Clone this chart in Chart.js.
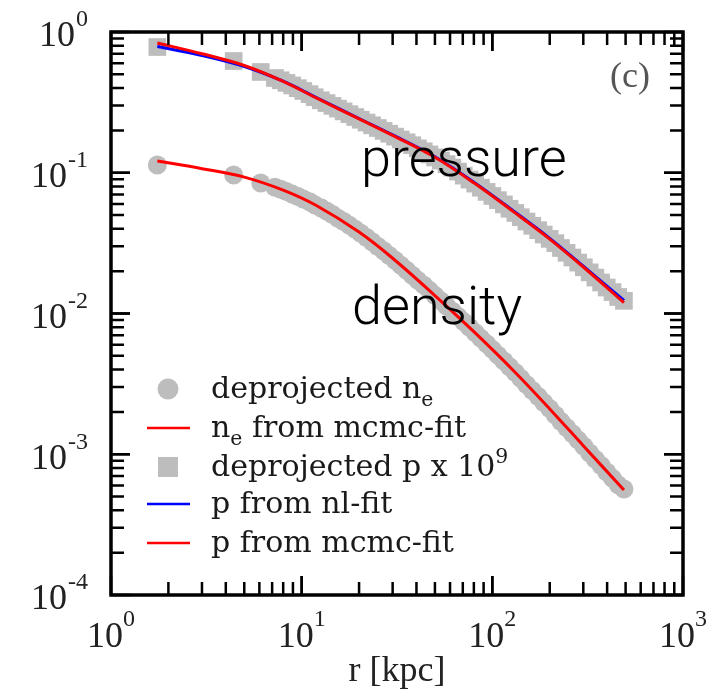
<!DOCTYPE html>
<html>
<head>
<meta charset="utf-8">
<script src="https://cdn.jsdelivr.net/npm/chart.js@4/dist/chart.umd.min.js"></script>
<style>
  html, body { margin: 0; padding: 0; background: #fff; }
  #wrap { width: 717px; height: 696px; }
</style>
</head>
<body>
<div id="wrap"><canvas id="myChart" width="717" height="696"></canvas></div>
<script>
// radii of the deprojected bins (kpc)
const markerR = [1.75, 4.4, 6.1,
  7.24, 7.76, 8.32, 8.91, 9.55, 10.2, 11.0, 11.7, 12.6, 13.5, 14.5, 15.5, 16.6, 17.8, 19.1, 20.4,
  21.9, 23.4, 25.1, 26.9, 28.8, 30.9, 33.1, 35.5, 38.0, 40.7, 43.7, 46.8, 50.1, 53.7, 57.5, 61.7,
  66.1, 70.8, 75.9, 81.3, 87.1, 93.3, 100, 107, 115, 123, 132, 141, 151, 162, 174, 186,
  200, 214, 229, 245, 263, 282, 302, 324, 347, 372, 398, 427, 457, 490]
// deprojected electron density n_e (cm^-3)
const densityNe = [0.1135, 0.0964, 0.0845,
  0.0789, 0.0763, 0.0735, 0.0706, 0.0679, 0.0651, 0.0622, 0.0592, 0.0564, 0.0535, 0.0505, 0.0475, 0.0450, 0.0423, 0.0396, 0.0372,
  0.0347, 0.0323, 0.0299, 0.0279, 0.0258, 0.0239, 0.0220, 0.0203, 0.0187, 0.0172, 0.0159, 0.0146, 0.0134, 0.0123, 0.0113, 0.01036,
  0.00951, 0.00872, 0.00798, 0.00729, 0.00666, 0.00609, 0.00556, 0.00506, 0.00460, 0.00419, 0.00381, 0.00346, 0.00313, 0.00284, 0.00257, 0.00233,
  0.00211, 0.00190, 0.00171, 0.00155, 0.00140, 0.00126, 0.00114, 0.00102, 0.000922, 0.000832, 0.000749, 0.000674, 0.000606, 0.000567]
// deprojected pressure x 1e9
const pressureP = [0.782, 0.622, 0.52,
  0.471, 0.454, 0.435, 0.417, 0.399, 0.381, 0.362, 0.344, 0.327, 0.3126, 0.2985, 0.2856, 0.2729, 0.2606, 0.2489, 0.2381,
  0.2275, 0.2173, 0.2079, 0.1983, 0.1894, 0.1806, 0.1722, 0.1645, 0.1569, 0.1491, 0.1420, 0.1350, 0.1285, 0.1220, 0.1152, 0.1088,
  0.1019, 0.0954, 0.0894, 0.0837, 0.0783, 0.0731, 0.0684, 0.0639, 0.0596, 0.0555, 0.0518, 0.0483, 0.0450, 0.0420, 0.0391, 0.0364,
  0.0339, 0.0316, 0.0292, 0.0270, 0.0250, 0.0230, 0.0213, 0.0196, 0.0180, 0.0166, 0.0153, 0.0142, 0.0131, 0.0123]

// fitted profiles
const fitR = [1.75, 3, 5, 8, 12, 20, 30, 50, 80, 130, 200, 300, 490]
const neMcmc = [0.1212, 0.1069, 0.0931, 0.0752, 0.0583, 0.0379, 0.0247, 0.01342, 0.00743, 0.00389, 0.0021, 0.00115, 0.000557]
const pNl = [0.789, 0.681, 0.569, 0.447, 0.341, 0.243, 0.186, 0.130, 0.0857, 0.0531, 0.0342, 0.0217, 0.01237]
const pMcmc = [0.835, 0.701, 0.578, 0.4457, 0.3386, 0.2413, 0.1842, 0.1287, 0.0848, 0.0525, 0.0338, 0.0214, 0.01197]

const xTickExp = [0, 1, 2, 3]
const yTickExp = [0, -1, -2, -3, -4]
const xTitle = 'r [kpc]'
const panelTag = '(c)'

const GRAY = '#bdbdbd'
const RED = '#ff0000'
const BLUE = '#0000ff'

const toPts = (xs, ys) => xs.map((x, i) => ({ x: x, y: ys[i] }))

// legend rows: kind, colour, text pieces [text, 'n'|'sub'|'sup']
const legendRows = [
  { kind: 'circle', color: GRAY, parts: [['deprojected n', 'n'], ['e', 'sub']] },
  { kind: 'line', color: RED, parts: [['n', 'n'], ['e', 'sub'], [' from mcmc-fit', 'n']] },
  { kind: 'square', color: GRAY, parts: [['deprojected p x 10', 'n'], ['9', 'sup']] },
  { kind: 'line', color: BLUE, parts: [['p from nl-fit', 'n']] },
  { kind: 'line', color: RED, parts: [['p from mcmc-fit', 'n']] },
]

function drawPieces(ctx, x, y, parts, size, family) {
  let cx = x
  parts.forEach(([txt, mode]) => {
    let fs = size, dy = 0
    if (mode === 'sub') { fs = size * 0.68; dy = size * 0.28 }
    if (mode === 'sup') { fs = size * 0.68; dy = -size * 0.42 }
    ctx.font = fs + 'px ' + family
    ctx.fillText(txt, cx, y + dy)
    cx += ctx.measureText(txt).width
  })
}

const framePlugin = {
  id: 'framePlugin',
  afterDraw(chart) {
    const ctx = chart.ctx
    const a = chart.chartArea
    const xs = chart.scales.x
    const ys = chart.scales.y
    ctx.save()
    ctx.strokeStyle = '#000'
    ctx.lineCap = 'butt'

    // ticks, inward on all four sides
    ctx.lineWidth = 2.5
    for (let d = 0; d < 3; d++) {
      for (let m = 1; m <= 10; m++) {
        const px = xs.getPixelForValue(m * Math.pow(10, d))
        const len = (m === 1 || m === 10) ? 19 : 13
        ctx.beginPath()
        ctx.moveTo(px, a.bottom); ctx.lineTo(px, a.bottom - len)
        ctx.moveTo(px, a.top); ctx.lineTo(px, a.top + len)
        ctx.stroke()
      }
    }
    for (let d = -4; d < 0; d++) {
      for (let m = 1; m <= 10; m++) {
        const py = ys.getPixelForValue(m * Math.pow(10, d))
        const len = (m === 1 || m === 10) ? 19 : 13
        ctx.beginPath()
        ctx.moveTo(a.left, py); ctx.lineTo(a.left + len, py)
        ctx.moveTo(a.right, py); ctx.lineTo(a.right - len, py)
        ctx.stroke()
      }
    }

    ctx.lineWidth = 3.5
    ctx.strokeRect(a.left, a.top, a.right - a.left, a.bottom - a.top)

    // tick labels
    const serif = '"Liberation Serif", "Times New Roman", serif'
    ctx.fillStyle = '#222'
    ctx.textBaseline = 'middle'
    xTickExp.forEach(e => {
      const px = xs.getPixelForValue(Math.pow(10, e))
      ctx.font = '36px ' + serif
      const w1 = ctx.measureText('10').width
      ctx.font = '24px ' + serif
      const w2 = ctx.measureText(String(e)).width
      const x0 = px - (w1 + w2) / 2
      ctx.textAlign = 'left'
      ctx.font = '36px ' + serif
      ctx.fillText('10', x0, a.bottom + 43)
      ctx.font = '24px ' + serif
      ctx.fillText(String(e), x0 + w1, a.bottom + 25)
    })
    yTickExp.forEach(e => {
      const py = ys.getPixelForValue(Math.pow(10, e))
      const sup = e === 0 ? '0' : '-' + Math.abs(e)
      ctx.textAlign = 'right'
      ctx.font = '24px ' + serif
      const w2 = ctx.measureText(sup).width
      ctx.fillText(sup, 88, py - 12)
      ctx.font = '36px ' + serif
      ctx.fillText('10', 88 - w2 - 1, py + 5)
    })

    // axis title and panel tag
    ctx.textAlign = 'center'
    ctx.font = '36px ' + serif
    ctx.fillText(xTitle, (a.left + a.right) / 2, a.bottom + 77)
    ctx.fillStyle = '#555'
    ctx.fillText(panelTag, 630, 78)

    // legend
    const lfam = '"DejaVu Serif", serif'
    ctx.textAlign = 'left'
    ctx.textBaseline = 'alphabetic'
    const rowY = [389, 428, 467, 504, 543]
    legendRows.forEach((row, i) => {
      const y = rowY[i]
      if (row.kind === 'circle') {
        ctx.fillStyle = row.color
        ctx.beginPath(); ctx.arc(168, y, 10.5, 0, Math.PI * 2); ctx.fill()
      } else if (row.kind === 'square') {
        ctx.fillStyle = row.color
        ctx.fillRect(158, y - 10, 20, 20)
      } else {
        ctx.strokeStyle = row.color
        ctx.lineWidth = 2.5
        ctx.beginPath(); ctx.moveTo(147, y); ctx.lineTo(190, y); ctx.stroke()
      }
      ctx.fillStyle = '#1a1a1a'
      drawPieces(ctx, 211, y + 9, row.parts, 30, lfam)
    })

    // annotations
    ctx.fillStyle = '#000'
    ctx.font = '300 54px "Helvetica Neue", Roboto, "Open Sans", sans-serif'
    ctx.fillText('pressure', 361, 176)
    ctx.fillText('density', 352, 324)
    ctx.restore()
  }
}

const ctx = document.getElementById('myChart').getContext('2d')
const myChart = new Chart(ctx, {
  type: 'line',
  data: {
    datasets: [
      { label: 'p from mcmc-fit', data: toPts(fitR, pMcmc), borderColor: RED, borderWidth: 3, pointRadius: 0, tension: 0.35, fill: false, order: 1 },
      { label: 'p from nl-fit', data: toPts(fitR, pNl), borderColor: BLUE, borderWidth: 3, pointRadius: 0, tension: 0.35, fill: false, order: 2 },
      { label: 'n_e from mcmc-fit', data: toPts(fitR, neMcmc), borderColor: RED, borderWidth: 3, pointRadius: 0, tension: 0.35, fill: false, order: 3 },
      { label: 'deprojected p x 10^9', data: toPts(markerR, pressureP), showLine: false, pointStyle: 'rect', pointRadius: 12.5, backgroundColor: GRAY, borderWidth: 0, order: 10 },
      { label: 'deprojected n_e', data: toPts(markerR, densityNe), showLine: false, pointStyle: 'circle', pointRadius: 9.5, backgroundColor: GRAY, borderWidth: 0, order: 11 },
    ]
  },
  options: {
    responsive: false,
    animation: false,
    devicePixelRatio: 1,
    layout: { padding: { left: 111, right: 34, top: 32, bottom: 101 } },
    plugins: { legend: { display: false }, tooltip: { enabled: false } },
    scales: {
      x: { type: 'logarithmic', min: 1, max: 1000, display: false },
      y: { type: 'logarithmic', min: 0.0001, max: 1, display: false }
    }
  },
  plugins: [framePlugin]
})
</script>
</body>
</html>
